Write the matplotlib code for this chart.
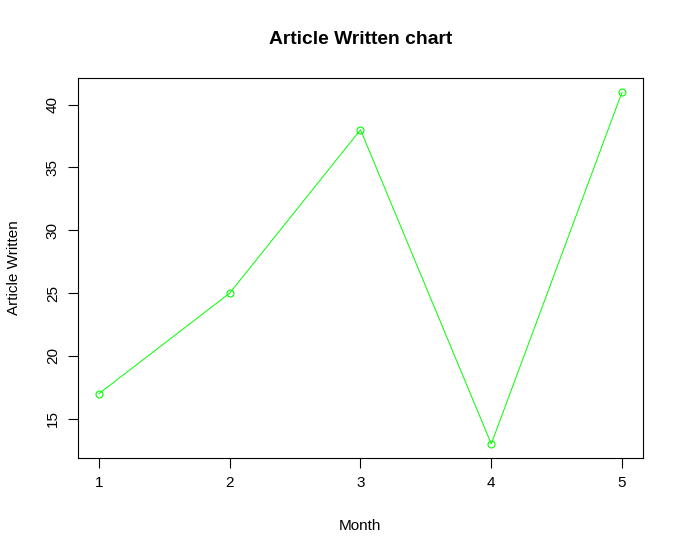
import matplotlib
matplotlib.use("Agg")
import matplotlib.pyplot as plt

months = [1, 2, 3, 4, 5]
articles = [17, 25, 38, 13, 41]
xticks = [1, 2, 3, 4, 5]
yticks = [15, 20, 25, 30, 35, 40]

plt.rcParams['font.family'] = ['Liberation Sans', 'DejaVu Sans']

fig = plt.figure(figsize=(6.85, 5.56), dpi=100)
ax = fig.add_axes([78/685, 1-458/556, (643-78)/685, (458-78)/556])
ax.plot(months, articles, color='#00FF00', linewidth=0.7, marker='o',
        markerfacecolor='none', markeredgecolor='#00FF00', markersize=5, markeredgewidth=0.8)
ax.set_xlim(0.84, 5.16)
ax.set_ylim(11.88, 42.12)
ax.set_xticks(xticks)
ax.set_yticks(yticks)
ax.tick_params(direction='out', length=7, width=0.8, labelsize=11, pad=6)
for lab in ax.get_yticklabels():
    lab.set_rotation(90)
    lab.set_va('center')
for s in ax.spines.values():
    s.set_linewidth(0.8)
fig.text(361/685, 1-40/556, 'Article Written chart', ha='center', va='center',
         fontsize=13.9, fontweight='bold')
fig.text(360/685, 1-526/556, 'Month', ha='center', va='center', fontsize=11)
fig.text(14/685, 1-268/556, 'Article Written', ha='center', va='center', fontsize=11, rotation=90)
fig.savefig('out.png', dpi=100)
